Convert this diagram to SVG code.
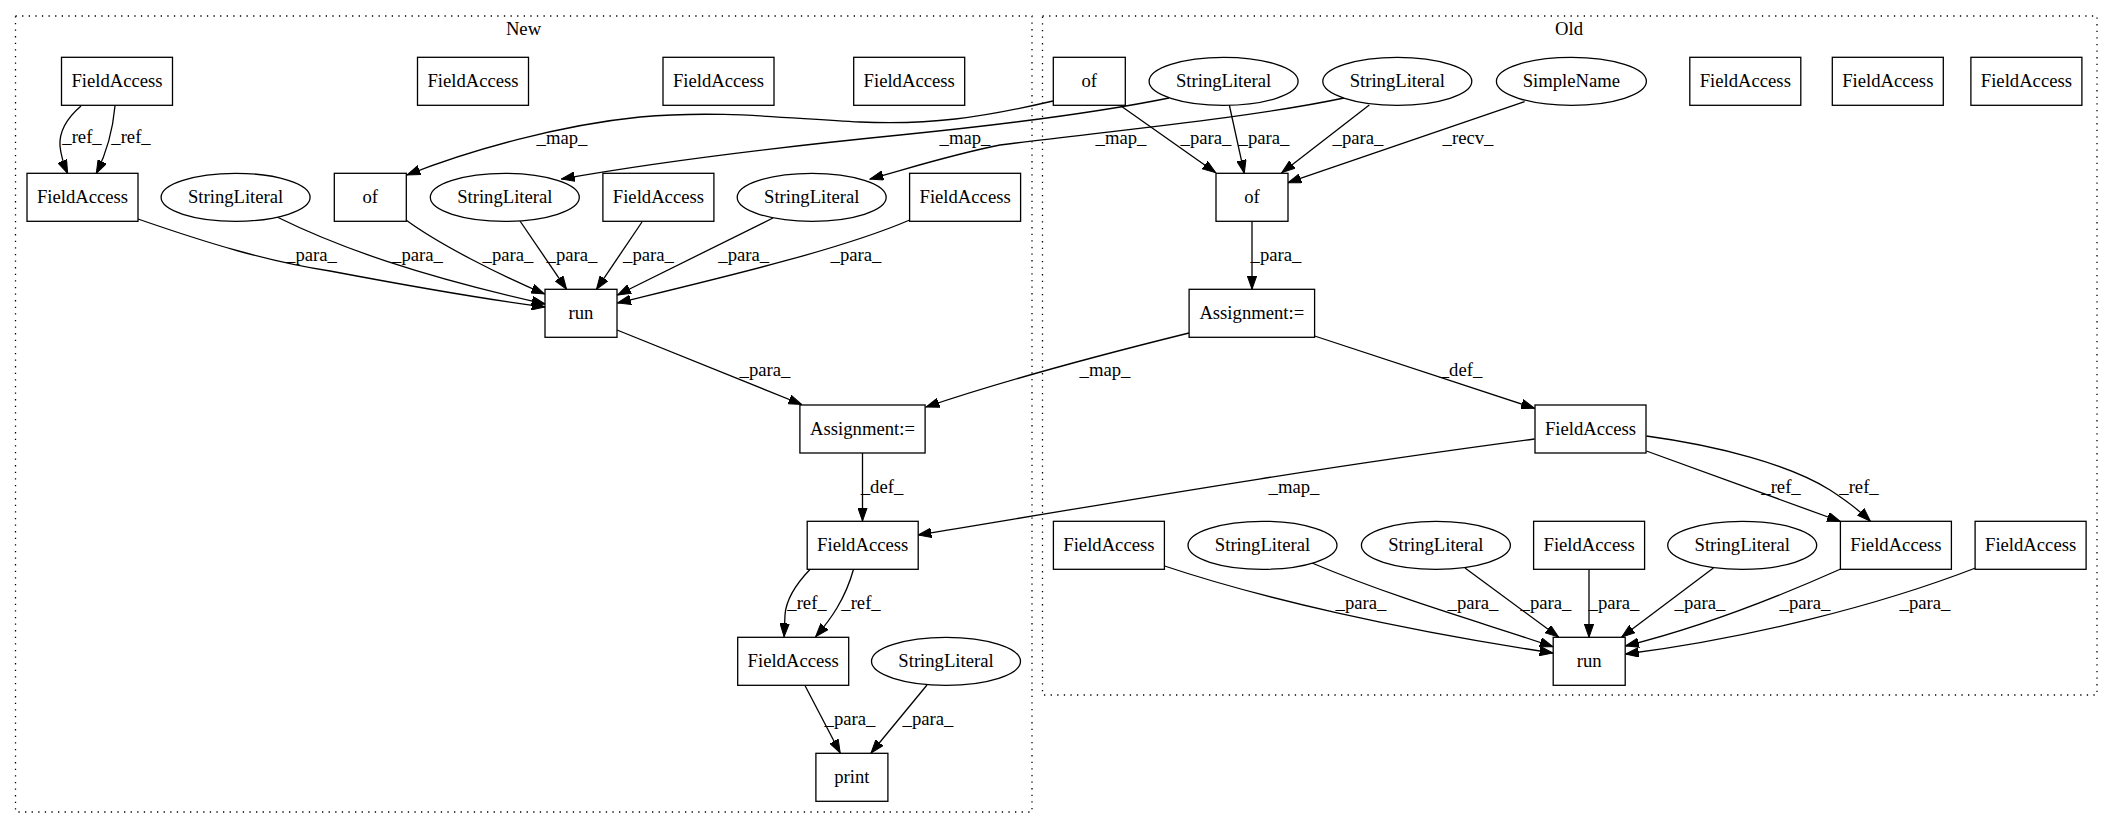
<svg xmlns="http://www.w3.org/2000/svg" width="2113" height="828" viewBox="0 0 2113 828">
<style>
.cl{fill:none;stroke:#000;stroke-width:1.3;stroke-dasharray:1.3,5.3}
.nd rect,.nd ellipse{fill:#fff;stroke:#000;stroke-width:1.3}
text{font-family:"Liberation Serif","Times New Roman",serif;font-size:18.67px;text-anchor:middle;fill:#000}
#edges path{fill:none;stroke:#000;stroke-width:1.3;marker-end:url(#arr)}
</style>
<defs>
<marker id="arr" viewBox="0 0 14 10" markerWidth="14" markerHeight="10" refX="13.3" refY="5" orient="auto" markerUnits="userSpaceOnUse">
<path d="M0,0.33 L13.3,5 L0,9.67 Z" fill="#000" stroke="#000" stroke-width="1"/>
</marker>
</defs>
<rect width="2113" height="828" fill="#fff"/>
<g id="cluster_new">
<rect class="cl" x="15.5" y="16" width="1016.5" height="796"/>
<text x="523.5" y="35">New</text>
</g>
<g id="cluster_old">
<rect class="cl" x="1042.5" y="16" width="1054.5" height="679"/>
<text x="1569" y="35">Old</text>
</g>
<g id="edges">
<!-- New cluster -->
<path d="M81,106 C67,118 59,131 60,146 C61,157 64,165 67.6,173.3"/>
<path d="M115,106 C113,128 107,152 96.3,173.3"/>
<path d="M138,219 C210,244 270,262 330,271 C420,288 490,300 545,307"/>
<path d="M277,217 C340,248 420,276 545,304"/>
<path d="M406,220 C440,245 500,275 544.5,294"/>
<path d="M520,221 L566.6,289.3"/>
<path d="M642,222 L596.5,289.3"/>
<path d="M773,218 L617.5,295"/>
<path d="M909.7,220 C840,250 720,278 617.5,303"/>
<path d="M617,330 L801.7,404.5"/>
<path d="M862.5,452.7 L862.5,521"/>
<path d="M810.4,569 C795,585 786,600 785,615 L784.1,636.7"/>
<path d="M853.6,569 C845,600 830,620 815.7,636.7"/>
<path d="M805.2,686 L840.2,753"/>
<path d="M927,685 L871,753"/>
<!-- cross -->
<path d="M1053,101 C980,118 930,125 860,122 C780,118 720,110 640,117 C560,125 470,150 407,175"/>
<path d="M1169,98 C1100,112 1000,125 900,135 C750,150 640,165 561.4,179"/>
<path d="M1344,98 C1250,118 1100,132 1000,145 C950,155 910,168 870,179"/>
<path d="M1189,333 C1100,355 1000,382 926,407"/>
<path d="M1534.6,439 C1300,470 1100,505 918,535"/>
<!-- Old cluster -->
<path d="M1121,106 L1215.7,172.7"/>
<path d="M1229.3,105 L1244.3,173.3"/>
<path d="M1369.3,105 L1281.8,172.7"/>
<path d="M1524.6,101.7 L1287.9,182.7"/>
<path d="M1252,221 L1252,289.3"/>
<path d="M1314.6,336 L1534.6,408.3"/>
<path d="M1646.4,451 L1840.4,521.5"/>
<path d="M1646.4,436 C1720,446 1790,465 1830,490 C1850,503 1862,513 1870.4,521.3"/>
<path d="M1164.6,566 C1260,598 1400,630 1553,653"/>
<path d="M1312,563 C1400,600 1490,625 1553,646.7"/>
<path d="M1465,568 L1558.6,637"/>
<path d="M1589,569 L1589,637.3"/>
<path d="M1713.4,568 L1621.7,637"/>
<path d="M1840.7,569 C1760,605 1690,630 1625.5,646"/>
<path d="M1975.5,568 C1880,605 1750,638 1625.5,654"/>
</g>
<g id="edge_labels">
<text x="82" y="143">_ref_</text>
<text x="131" y="143">_ref_</text>
<text x="562" y="144">_map_</text>
<text x="965" y="144">_map_</text>
<text x="1121" y="144">_map_</text>
<text x="1206" y="144">_para_</text>
<text x="1264" y="144">_para_</text>
<text x="1358" y="144">_para_</text>
<text x="1468" y="144">_recv_</text>
<text x="311.5" y="261">_para_</text>
<text x="417.5" y="261">_para_</text>
<text x="508" y="261">_para_</text>
<text x="572" y="261">_para_</text>
<text x="648.5" y="261">_para_</text>
<text x="743.7" y="261">_para_</text>
<text x="856" y="261">_para_</text>
<text x="1276" y="261">_para_</text>
<text x="765" y="376">_para_</text>
<text x="1105" y="376">_map_</text>
<text x="1461" y="376">_def_</text>
<text x="882" y="493">_def_</text>
<text x="1294" y="493">_map_</text>
<text x="1781" y="493">_ref_</text>
<text x="1859" y="493">_ref_</text>
<text x="807" y="609">_ref_</text>
<text x="861" y="609">_ref_</text>
<text x="1361" y="609">_para_</text>
<text x="1473" y="609">_para_</text>
<text x="1546" y="609">_para_</text>
<text x="1614" y="609">_para_</text>
<text x="1700" y="609">_para_</text>
<text x="1805" y="609">_para_</text>
<text x="1925" y="609">_para_</text>
<text x="850" y="725">_para_</text>
<text x="928" y="725">_para_</text>
</g>
<!-- New nodes -->
<g id="n_fa1" class="nd"><rect x="61.5" y="57.3" width="111" height="48"/><text x="117" y="87.3">FieldAccess</text></g>
<g id="n_fa3" class="nd"><rect x="417.5" y="57.3" width="111" height="48"/><text x="473" y="87.3">FieldAccess</text></g>
<g id="n_fa4" class="nd"><rect x="663" y="57.3" width="111" height="48"/><text x="718.5" y="87.3">FieldAccess</text></g>
<g id="n_fa5" class="nd"><rect x="853.7" y="57.3" width="111" height="48"/><text x="909.2" y="87.3">FieldAccess</text></g>
<g id="n_fa2" class="nd"><rect x="27" y="173.3" width="111" height="48"/><text x="82.5" y="203.3">FieldAccess</text></g>
<g id="n_sl1" class="nd"><ellipse cx="235.6" cy="197.3" rx="74.5" ry="24"/><text x="235.6" y="203.3">StringLiteral</text></g>
<g id="n_of" class="nd"><rect x="334.3" y="173.3" width="72" height="48"/><text x="370.3" y="203.3">of</text></g>
<g id="n_sl2" class="nd"><ellipse cx="504.8" cy="197.3" rx="74.5" ry="24"/><text x="504.8" y="203.3">StringLiteral</text></g>
<g id="n_fa6" class="nd"><rect x="602.9" y="173.3" width="111" height="48"/><text x="658.4" y="203.3">FieldAccess</text></g>
<g id="n_sl3" class="nd"><ellipse cx="811.7" cy="197.3" rx="74.5" ry="24"/><text x="811.7" y="203.3">StringLiteral</text></g>
<g id="n_fa7" class="nd"><rect x="909.6" y="173.3" width="111" height="48"/><text x="965.1" y="203.3">FieldAccess</text></g>
<g id="n_run" class="nd"><rect x="545" y="289.3" width="72" height="48"/><text x="581" y="319.3">run</text></g>
<g id="n_asg" class="nd"><rect x="799.9" y="405" width="125.2" height="48"/><text x="862.5" y="435">Assignment:=</text></g>
<g id="n_fa8" class="nd"><rect x="807.2" y="521.3" width="111" height="48"/><text x="862.7" y="551.3">FieldAccess</text></g>
<g id="n_fa9" class="nd"><rect x="737.7" y="637.3" width="111" height="48"/><text x="793.2" y="667.3">FieldAccess</text></g>
<g id="n_sl4" class="nd"><ellipse cx="946" cy="661.3" rx="74.5" ry="24"/><text x="946" y="667.3">StringLiteral</text></g>
<g id="n_print" class="nd"><rect x="815.9" y="753.3" width="72" height="48"/><text x="851.9" y="783.3">print</text></g>
<!-- Old nodes -->
<g id="o_of1" class="nd"><rect x="1053.3" y="57.3" width="72" height="48"/><text x="1089.3" y="87.3">of</text></g>
<g id="o_sl1" class="nd"><ellipse cx="1223.6" cy="81.3" rx="74.5" ry="24"/><text x="1223.6" y="87.3">StringLiteral</text></g>
<g id="o_sl2" class="nd"><ellipse cx="1397.3" cy="81.3" rx="74.5" ry="24"/><text x="1397.3" y="87.3">StringLiteral</text></g>
<g id="o_sn" class="nd"><ellipse cx="1571.4" cy="81.3" rx="75" ry="24"/><text x="1571.4" y="87.3">SimpleName</text></g>
<g id="o_fa1" class="nd"><rect x="1689.8" y="57.3" width="111" height="48"/><text x="1745.3" y="87.3">FieldAccess</text></g>
<g id="o_fa2" class="nd"><rect x="1832.3" y="57.3" width="111" height="48"/><text x="1887.8" y="87.3">FieldAccess</text></g>
<g id="o_fa3" class="nd"><rect x="1970.9" y="57.3" width="111" height="48"/><text x="2026.4" y="87.3">FieldAccess</text></g>
<g id="o_of2" class="nd"><rect x="1216" y="173.3" width="72" height="48"/><text x="1252" y="203.3">of</text></g>
<g id="o_asg" class="nd"><rect x="1189.1" y="289.3" width="125.5" height="48"/><text x="1251.8" y="319.3">Assignment:=</text></g>
<g id="o_fa_mid" class="nd"><rect x="1535" y="405" width="111" height="48"/><text x="1590.5" y="435">FieldAccess</text></g>
<g id="o_fa_r1" class="nd"><rect x="1053.4" y="521.3" width="111" height="48"/><text x="1108.9" y="551.3">FieldAccess</text></g>
<g id="o_sl3" class="nd"><ellipse cx="1262.5" cy="545.3" rx="74.5" ry="24"/><text x="1262.5" y="551.3">StringLiteral</text></g>
<g id="o_sl4" class="nd"><ellipse cx="1435.9" cy="545.3" rx="74.5" ry="24"/><text x="1435.9" y="551.3">StringLiteral</text></g>
<g id="o_fa_r2" class="nd"><rect x="1533.6" y="521.3" width="111" height="48"/><text x="1589.1" y="551.3">FieldAccess</text></g>
<g id="o_sl5" class="nd"><ellipse cx="1742.2" cy="545.3" rx="74.5" ry="24"/><text x="1742.2" y="551.3">StringLiteral</text></g>
<g id="o_fa_r3" class="nd"><rect x="1840.4" y="521.3" width="111" height="48"/><text x="1895.9" y="551.3">FieldAccess</text></g>
<g id="o_fa_r4" class="nd"><rect x="1975.1" y="521.3" width="111" height="48"/><text x="2030.6" y="551.3">FieldAccess</text></g>
<g id="o_run" class="nd"><rect x="1553.2" y="637.3" width="72" height="48"/><text x="1589.2" y="667.3">run</text></g>
</svg>
